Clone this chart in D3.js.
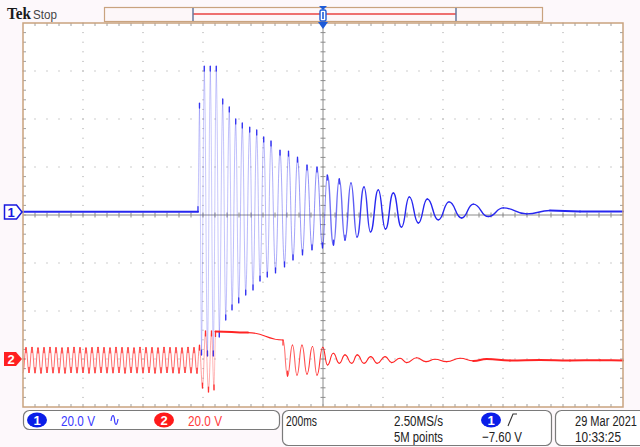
<!DOCTYPE html>
<html><head><meta charset="utf-8">
<script src="https://cdn.jsdelivr.net/npm/d3@7"></script>
<style>
html,body{margin:0;padding:0;background:#fdf8fb;}
svg{display:block;}
</style></head><body>
<svg id="c" width="640" height="447"></svg>
<script>
// Channel 1 (blue): extrema of the trace, time in ms (0 = trigger), volts
const ch1Time = [-1000,-416.7,-411.7,-405,-395.7,-385,-375.7,-365.7,-355.7,-345.7,-334.3,-324.3,-312.3,-303.3,-291,-281,-269,-257.7,-244.3,-233.3,-221,-210,-197.7,-185.7,-173.3,-158.3,-143.3,-128.3,-115,-100,-85,-68.3,-53.3,-36.7,-20,-1.7,14.3,35,54.3,73.3,93.3,113.3,136.7,158.3,184.3,208.3,234.3,261.7,287.7,317.7,347.7,384.3,420,462.3,501,551,601,679,756.7,856.7,1000];
const ch1Volt = [0.1,0.1,45.4,-59.6,60.8,-60,60.8,-60,60.8,-52.1,47.1,-45,43.8,-40.8,38.8,-37.9,37.1,-34.6,35.4,-32.5,34.2,-28.8,31.3,-27.1,29.6,-25.4,25.8,-22.9,25.4,-20,22.9,-17.9,19.6,-15.8,18.8,-15,15.4,-13.8,13.8,-11.7,12.1,-10.4,10.4,-8.3,9.2,-7.1,7.9,-6.3,6.3,-4.6,5.4,-3.3,4.2,-2.5,3.3,-1.9,1.7,-0.8,0.6,0.2,0.2];
// Channel 2 (red): extrema of the trace, time in ms, volts
const ch2Time = [-1000,-990,-980,-970,-960,-950,-940,-930,-920,-910,-900,-890,-880,-870,-860,-850,-840,-830,-820,-810,-800,-790,-780,-770,-760,-750,-740,-730,-720,-710,-700,-690,-680,-670,-660,-650,-640,-630,-620,-610,-600,-590,-580,-570,-560,-550,-540,-530,-520,-510,-500,-490,-480,-470,-460,-450,-440,-430,-420,
  -411.7,-401.7,-391.7,-381.7,-371.7,-363.3,-358.3,-250,-133.3,-118.3,-101.7,-86.7,-70,-53.3,-35,-20,-1,15,34.3,54.3,73.3,95.7,114.3,136.7,159,181,206.7,229,256.7,279,312.3,343.3,373.3,412.3,456.7,501,545.7,623.3,723.3,823.3,923.3,1000];
const ch2Volt = [-5.7,4.7,-5.6,4.8,-5.7,4.6,-5.8,4.7,-5.6,4.8,-5.7,4.7,-5.7,4.6,-5.8,4.7,-5.6,4.8,-5.7,4.7,-5.6,4.6,-5.8,4.7,-5.7,4.8,-5.6,4.7,-5.7,4.6,-5.7,4.8,-5.6,4.7,-5.8,4.7,-5.6,4.6,-5.7,4.8,-5.7,4.7,-5.6,4.7,-5.8,4.6,-5.7,4.8,-5.6,4.7,-5.7,4.7,-5.8,4.6,-5.6,4.8,-5.7,4.7,-5.9,
  5.8,-12.1,11.7,-13.8,11.7,-12.9,11.5,11.0,7.9,-7.1,5.8,-6.7,5.8,-6.3,5.2,-6.7,4.9,-2.5,2.4,-1.8,1.7,-1.8,1.7,-1.8,1.0,-1.8,1.0,-1.5,0.3,-1.5,0.5,-1.1,-0.1,-1.1,0.3,-0.8,0,-0.6,-0.4,-0.6,-0.5,-0.6];

// Scope settings / labels
const voltsPerDiv = [20, 20];
const channelPos = [0.0625, -3.0];       // divisions from centre
const timeRange = [-1000, 1000];          // ms (200 ms/div)
const headerLabels = ["Tek", "Stop"];
const chScaleLabels = ["20.0 V", "20.0 V"];
const timebaseLabels = ["200ms", "2.50MS/s", "5M points"];
const triggerLabel = "\u22127.60 V";
const dateLabels = ["29 Mar  2021", "10:33:25"];

// ---------------- LAYOUT ----------------
const svg = d3.select("#c");
const L = 23, R = 623, T = 23, B = 407;
const BLUE = "#2626f0", RED = "#ff2424", FRAME = "#c9a37f";

const x = d3.scaleLinear().domain(timeRange).range([L, R]);
const xDiv = d3.scaleLinear().domain([0, 10]).range([L, R]);
const yDiv = d3.scaleLinear().domain([-4, 4]).range([B, T]);
const yCh = k => v => yDiv(v / voltsPerDiv[k] + channelPos[k]);

svg.append("rect").attr("x", L).attr("y", T).attr("width", R - L).attr("height", B - T).attr("fill", "#ffffff");

// grid dots
const g = svg.append("g");
for (let i = 1; i < 10; i++) {
  if (i === 5) continue;
  for (let m = 0; m <= 40; m++) {
    g.append("rect").attr("x", xDiv(i) - 0.5).attr("y", yDiv(-4 + m * 0.2) - 0.5).attr("width", 1).attr("height", 1).attr("fill", "#9a9a9a");
  }
}
for (let j = -3; j <= 3; j++) {
  if (j === 0) continue;
  for (let m = 0; m <= 50; m++) {
    g.append("rect").attr("x", xDiv(m * 0.2) - 0.5).attr("y", yDiv(j) - 0.5).attr("width", 1).attr("height", 1).attr("fill", "#9a9a9a");
  }
}
g.append("line").attr("x1", L).attr("x2", R).attr("y1", yDiv(0)).attr("y2", yDiv(0)).attr("stroke", "#8c8c8c").attr("stroke-width", 1);
g.append("line").attr("x1", xDiv(5)).attr("x2", xDiv(5)).attr("y1", T).attr("y2", B).attr("stroke", "#8c8c8c").attr("stroke-width", 1);
for (let m = 1; m < 50; m++) {
  const xx = xDiv(m * 0.2);
  g.append("line").attr("x1", xx).attr("x2", xx).attr("y1", yDiv(0) - 2.5).attr("y2", yDiv(0) + 2.5).attr("stroke", "#8c8c8c");
  g.append("line").attr("x1", xx).attr("x2", xx).attr("y1", T).attr("y2", T + 3).attr("stroke", "#a0a0a0");
  g.append("line").attr("x1", xx).attr("x2", xx).attr("y1", B - 3).attr("y2", B).attr("stroke", "#a0a0a0");
}
for (let m = 1; m < 40; m++) {
  const yy = yDiv(-4 + m * 0.2);
  g.append("line").attr("x1", xDiv(5) - 2.5).attr("x2", xDiv(5) + 2.5).attr("y1", yy).attr("y2", yy).attr("stroke", "#8c8c8c");
  g.append("line").attr("x1", L).attr("x2", L + 3).attr("y1", yy).attr("y2", yy).attr("stroke", "#a0a0a0");
  g.append("line").attr("x1", R - 3).attr("x2", R).attr("y1", yy).attr("y2", yy).attr("stroke", "#a0a0a0");
}

// ---------------- TRACES ----------------
function drawTrace(times, volts, ySc, color, lw, gain) {
  const pts = times.map((t, i) => [x(t), ySc(volts[i])]);
  const tg = svg.append("g").attr("fill", "none").attr("stroke", color).attr("stroke-linecap", "round");
  const ops = [];
  for (let i = 1; i < pts.length; i++) {
    const p0 = pts[i - 1], p1 = pts[i];
    const dx = p1[0] - p0[0], dy = Math.abs(p1[1] - p0[1]);
    const op = dy < 2 ? 1 : Math.min(1, 0.2 + gain * dx / dy);
    ops.push(op);
    const mx = (p0[0] + p1[0]) / 2;
    tg.append("path")
      .attr("d", `M${p0[0]},${p0[1]} C${mx},${p0[1]} ${mx},${p1[1]} ${p1[0]},${p1[1]}`)
      .attr("stroke-opacity", op)
      .attr("stroke-width", dy < 2 ? 2 : (op < 0.6 ? 1 : lw));
  }
  for (let i = 1; i < pts.length - 1; i++) {
    if (ops[i - 1] > 0.7 && ops[i] > 0.7) continue;
    const p = pts[i];
    const nb = (pts[i - 1][1] + pts[i + 1][1]) / 2;
    if (Math.abs(nb - p[1]) < 8) continue;
    const s = nb > p[1] ? 1 : -1;
    tg.append("line").attr("x1", p[0]).attr("x2", p[0]).attr("y1", p[1]).attr("y2", p[1] + s * 5)
      .attr("stroke-width", 1.3).attr("stroke-opacity", 0.9);
  }
}
drawTrace(ch1Time, ch1Volt, yCh(0), BLUE, 1.4, 5);
drawTrace(ch2Time, ch2Volt, yCh(1), RED, 1.1, 3.5);

svg.append("rect").attr("x", L).attr("y", T).attr("width", R - L).attr("height", B - T)
  .attr("fill", "none").attr("stroke", FRAME).attr("stroke-width", 1.5);

// channel markers
const m1y = yCh(0)(0), m2y = yCh(1)(0);
svg.append("path").attr("d", `M4.5,${m1y - 7} H16.5 L22,${m1y} L16.5,${m1y + 7} H4.5 Z`)
  .attr("fill", "#fff").attr("stroke", "#1818e0").attr("stroke-width", 1.5);
svg.append("text").attr("x", 11).attr("y", m1y + 5).attr("text-anchor", "middle")
  .attr("font-family", "Liberation Sans, Arial, sans-serif").attr("font-weight", "bold").attr("font-size", 13)
  .attr("fill", "#1818e0").text("1");
svg.append("path").attr("d", `M4,${m2y - 7} H16 L22,${m2y} L16,${m2y + 7} H4 Z`).attr("fill", "#ff2020");
svg.append("text").attr("x", 11).attr("y", m2y + 5).attr("text-anchor", "middle")
  .attr("font-family", "Liberation Sans, Arial, sans-serif").attr("font-weight", "bold").attr("font-size", 13)
  .attr("fill", "#fff").text("2");

// squeezed text helper (scale horizontally to a target width)
function squeezed(parent, xx, yy, str, w, attrs) {
  const t = parent.append("text").attr("x", 0).attr("y", 0).text(str);
  Object.entries(attrs).forEach(([k, v]) => t.attr(k, v));
  const nat = t.node().getComputedTextLength() || w;
  t.attr("transform", `translate(${xx},${yy}) scale(${w / nat},1)`);
  return t;
}

// ---------------- HEADER ----------------
squeezed(svg, 7, 19, headerLabels[0], 24, {"font-family": "Liberation Serif, serif", "font-weight": "bold", "font-size": 16, "fill": "#1a1a1a"});
squeezed(svg, 33, 19, headerLabels[1], 24, {"font-family": "Liberation Sans, sans-serif", "font-size": 13, "fill": "#444"});
svg.append("rect").attr("x", 104.5).attr("y", 7.5).attr("width", 438).attr("height", 14)
  .attr("fill", "#fdf7f9").attr("stroke", FRAME).attr("stroke-width", 1.2);
svg.append("line").attr("x1", 193).attr("x2", 456).attr("y1", 14).attr("y2", 14).attr("stroke", "#f28a8a").attr("stroke-width", 2);
svg.append("line").attr("x1", 193).attr("x2", 456).attr("y1", 14).attr("y2", 14).attr("stroke", "#e84a4a").attr("stroke-width", 0.8);
[193, 456].forEach(v => svg.append("line").attr("x1", v).attr("x2", v).attr("y1", 8).attr("y2", 21).attr("stroke", "#66789e").attr("stroke-width", 1.5));
const tx = x(0);
svg.append("path").attr("d", `M${tx - 4},6 H${tx + 4} L${tx},10 Z`).attr("fill", "#1e5bd8");
svg.append("rect").attr("x", tx - 3).attr("y", 10).attr("width", 6).attr("height", 11).attr("rx", 1.5)
  .attr("fill", "#fff").attr("stroke", "#1e5bd8").attr("stroke-width", 1.4);
svg.append("line").attr("x1", tx).attr("x2", tx).attr("y1", 12).attr("y2", 19).attr("stroke", "#1e5bd8").attr("stroke-width", 1.6);
svg.append("path").attr("d", `M${tx - 5},22 H${tx + 5} L${tx},29 Z`).attr("fill", "#1e5bd8");

// ---------------- STATUS BAR ----------------
const F = "Liberation Sans, Arial, sans-serif";
const sb = svg.append("g").attr("font-family", F).attr("font-size", 15);
sb.append("rect").attr("x", 23.5).attr("y", 410.5).attr("width", 256).attr("height", 19).attr("rx", 6)
  .attr("fill", "#fff").attr("stroke", "#7a7a7a").attr("stroke-width", 1.2);
sb.append("rect").attr("x", 282.5).attr("y", 410.5).attr("width", 269).attr("height", 35).attr("rx", 6)
  .attr("fill", "#fff").attr("stroke", "#7a7a7a").attr("stroke-width", 1.2);
sb.append("rect").attr("x", 555.5).attr("y", 410.5).attr("width", 100).attr("height", 35).attr("rx", 6)
  .attr("fill", "#fff").attr("stroke", "#7a7a7a").attr("stroke-width", 1.2);

function badge(cx, cy, fill, lab) {
  sb.append("ellipse").attr("cx", cx).attr("cy", cy).attr("rx", 10).attr("ry", 7.5).attr("fill", fill);
  sb.append("text").attr("x", cx).attr("y", cy + 5).attr("text-anchor", "middle").attr("fill", "#fff")
    .attr("font-weight", "bold").attr("font-size", 13).text(lab);
}
function label(xx, yy, color, str, w) {
  squeezed(sb, xx, yy, str, w, {"fill": color});
}
const L1 = 425.5, L2 = 442;
badge(37, 420, "#0a1ee8", "1");
label(61, L1, "#3b3bff", chScaleLabels[0], 34);
sb.append("path").attr("d", "M111,421 C112,414 114,414 114.5,420 C115,426 117,426 118,419")
  .attr("fill", "none").attr("stroke", "#3b3bff").attr("stroke-width", 1.2);
badge(164, 420, "#ff1a1a", "2");
label(188, L1, "#ff3c3c", chScaleLabels[1], 34);
label(286, L1, "#222", timebaseLabels[0], 31);
label(394, L1, "#222", timebaseLabels[1], 49);
label(394, L2, "#222", timebaseLabels[2], 49);
badge(491, 420, "#0a1ee8", "1");
sb.append("path").attr("d", "M508,426 L513,414 H517").attr("fill", "none").attr("stroke", "#333").attr("stroke-width", 1.1);
label(482, L2, "#222", triggerLabel, 40);
label(575, L1, "#222", dateLabels[0], 62);
label(575, L2, "#222", dateLabels[1], 46);
</script>
</body></html>
